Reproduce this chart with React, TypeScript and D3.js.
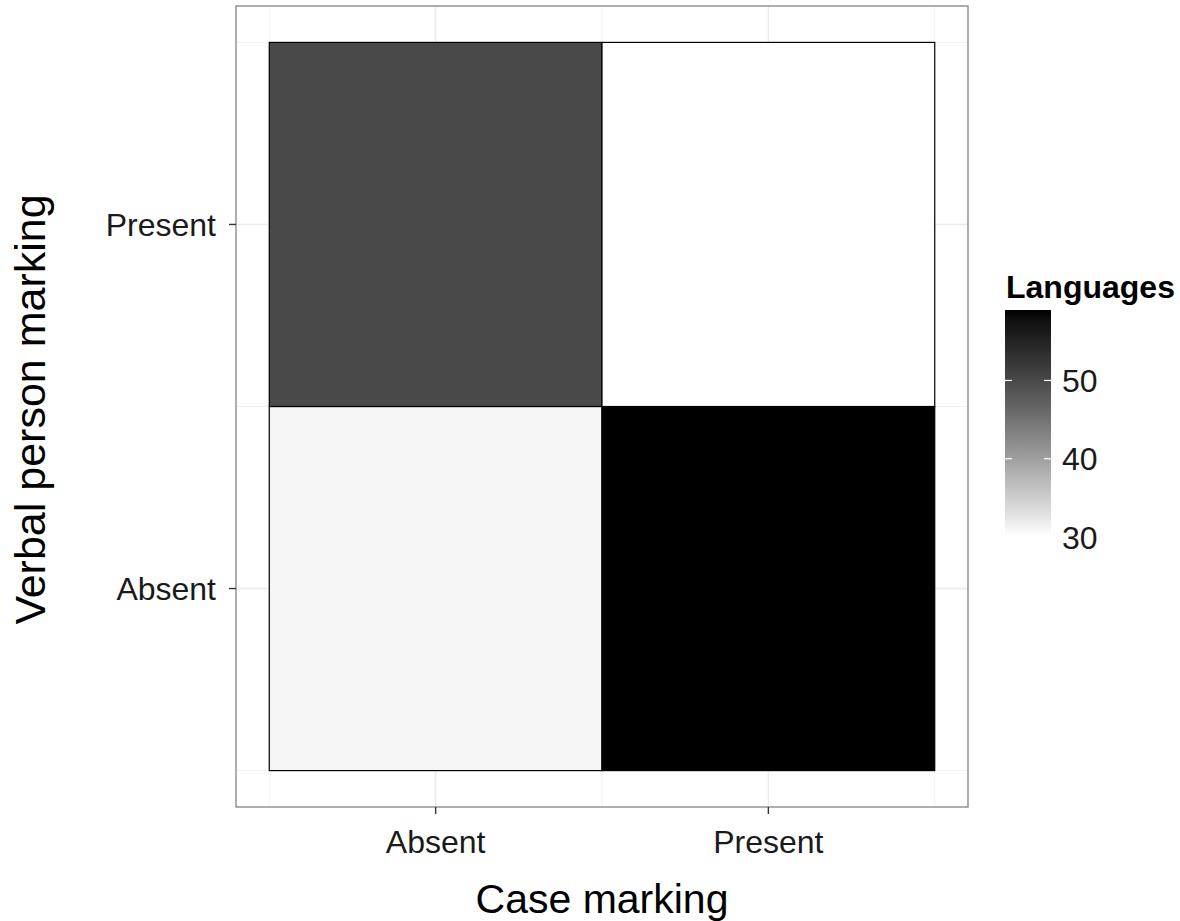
import React from "react";
import * as d3 from "d3";

const caseLevels = ["Absent", "Present"];
const verbalLevels = ["Absent", "Present"];
const caseMarking = ["Absent", "Absent", "Present", "Present"];
const verbalMarking = ["Absent", "Present", "Absent", "Present"];
const languages = [31, 50, 59, 30];
const legendBreaks = [30, 40, 50];

const W = 1180;
const H = 921;
const FONT = "'Liberation Sans', Arial, sans-serif";

export default function App() {
  const x = d3.scaleLinear().domain([0.4, 2.6]).range([236, 968]);
  const y = d3.scaleLinear().domain([0.4, 2.6]).range([807, 6]);
  const minV = d3.min(languages)!;
  const maxV = d3.max(languages)!;
  const color = d3
    .scaleLinear<string>()
    .domain([minV, maxV])
    .range(["#ffffff", "#000000"])
    .interpolate(d3.interpolateLab);

  const legY = d3.scaleLinear().domain([minV, maxV]).range([537, 310]);
  const legX0 = 1005;
  const legX1 = 1051;
  const stops = d3.range(0, 1.0001, 0.05);

  const xPos = (c: string) => caseLevels.indexOf(c) + 1;
  const yPos = (v: string) => verbalLevels.indexOf(v) + 1;

  const majorX = caseLevels.map((_, i) => i + 1);
  const majorY = verbalLevels.map((_, i) => i + 1);
  const minorX = [0.5, 1.5, 2.5];
  const minorY = [0.5, 1.5, 2.5];

  return (
    <svg width={W} height={H} style={{ position: "absolute", left: 0, top: 0 }} fontFamily={FONT}>
      <rect x={0} y={0} width={W} height={H} fill="#ffffff" />
      <defs>
        <linearGradient id="lg" x1="0" y1="1" x2="0" y2="0">
          {stops.map((s) => (
            <stop key={s} offset={s} stopColor={color(minV + s * (maxV - minV))} />
          ))}
        </linearGradient>
      </defs>
      {minorX.map((v) => (
        <line key={"mx" + v} x1={x(v)} x2={x(v)} y1={y(0.4)} y2={y(2.6)} stroke="#f2f2f2" strokeWidth={1} />
      ))}
      {minorY.map((v) => (
        <line key={"my" + v} y1={y(v)} y2={y(v)} x1={x(0.4)} x2={x(2.6)} stroke="#f2f2f2" strokeWidth={1} />
      ))}
      {majorX.map((v) => (
        <line key={"Mx" + v} x1={x(v)} x2={x(v)} y1={y(0.4)} y2={y(2.6)} stroke="#ebebeb" strokeWidth={1.5} />
      ))}
      {majorY.map((v) => (
        <line key={"My" + v} y1={y(v)} y2={y(v)} x1={x(0.4)} x2={x(2.6)} stroke="#ebebeb" strokeWidth={1.5} />
      ))}
      {languages.map((val, i) => {
        const cx = xPos(caseMarking[i]);
        const cy = yPos(verbalMarking[i]);
        return (
          <rect
            key={i}
            x={x(cx - 0.5)}
            y={y(cy + 0.5)}
            width={x(cx + 0.5) - x(cx - 0.5)}
            height={y(cy - 0.5) - y(cy + 0.5)}
            fill={color(val)}
            stroke="#000000"
            strokeWidth={1.2}
          />
        );
      })}
      <rect x={x(0.4)} y={y(2.6)} width={x(2.6) - x(0.4)} height={y(0.4) - y(2.6)} fill="none" stroke="#8c8c8c" strokeWidth={1.4} />
      {caseLevels.map((c, i) => (
        <g key={"xt" + c}>
          <line x1={x(i + 1)} x2={x(i + 1)} y1={y(0.4)} y2={y(0.4) + 7} stroke="#333333" strokeWidth={1.4} />
          <text x={x(i + 1)} y={853} textAnchor="middle" fontSize={32} fill="#1a1a1a">
            {c}
          </text>
        </g>
      ))}
      {verbalLevels.map((v, i) => (
        <g key={"yt" + v}>
          <line x1={x(0.4) - 7} x2={x(0.4)} y1={y(i + 1)} y2={y(i + 1)} stroke="#333333" strokeWidth={1.4} />
          <text x={216} y={y(i + 1) + 11.5} textAnchor="end" fontSize={32} fill="#1a1a1a">
            {v}
          </text>
        </g>
      ))}
      <text x={(x(0.4) + x(2.6)) / 2} y={913} textAnchor="middle" fontSize={41} fill="#000">
        Case marking
      </text>
      <text
        transform={`translate(45, ${(y(0.4) + y(2.6)) / 2 + 3}) rotate(-90)`}
        textAnchor="middle"
        fontSize={43}
        fill="#000"
      >
        Verbal person marking
      </text>
      <text x={1006} y={298} fontSize={32} fontWeight="bold" fill="#000">
        Languages
      </text>
      <rect x={legX0} y={legY(maxV)} width={legX1 - legX0} height={legY(minV) - legY(maxV)} fill="url(#lg)" />
      {legendBreaks.map((b) => (
        <g key={"lb" + b}>
          <line x1={legX0} x2={legX0 + 7} y1={legY(b)} y2={legY(b)} stroke="#ffffff" strokeWidth={1.2} />
          <line x1={legX1 - 7} x2={legX1} y1={legY(b)} y2={legY(b)} stroke="#ffffff" strokeWidth={1.2} />
          <text x={1062} y={legY(b) + 11.5} fontSize={32} fill="#1a1a1a">
            {b}
          </text>
        </g>
      ))}
    </svg>
  );
}
